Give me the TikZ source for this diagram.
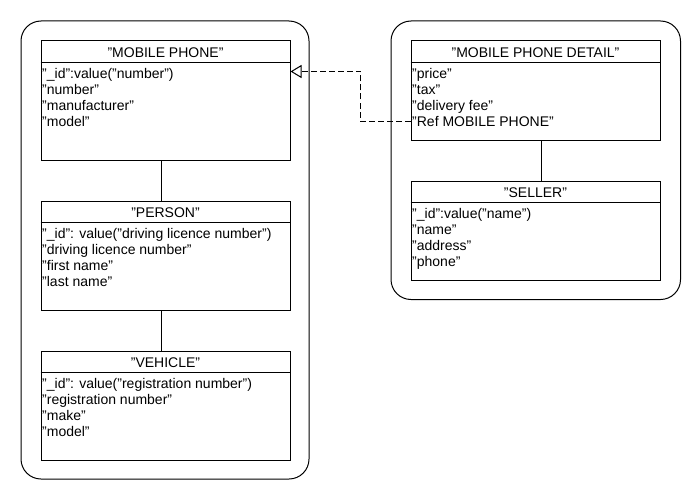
\documentclass[tikz,border=0pt]{standalone}
\usepackage{fontspec}
\setmainfont{Liberation Sans}
\usetikzlibrary{arrows.meta}
\tikzset{
  container/.style={draw=black, line width=1pt, rounded corners=20pt, inner sep=0pt, anchor=north west},
  cbox/.style={draw=black, line width=1pt, fill=white, inner sep=0pt, anchor=north west},
  title/.style={anchor=base, inner sep=0pt, font=\fontsize{14}{16}\selectfont},
  attr/.style={anchor=base west, inner sep=0pt, font=\fontsize{14}{16}\selectfont},
  link/.style={draw=black, line width=1pt},
  dep/.style={draw=black, line width=1pt, dash pattern=on 6pt off 3pt, -{Triangle[open, length=11pt, width=13pt]}}
}
\newcommand{\umlclass}[7]{% name, x, y, w, h, title, attributes
  \node[cbox, minimum width=#4pt, minimum height=#5pt] (#1) at (#2,#3) {};
  \draw[link] ([yshift=-22pt]#1.north west) -- ([yshift=-22pt]#1.north east);
  \node[title] (#1-t) at ([yshift=-17pt]#1.north) {#6};
  \foreach \t [count=\i] in {#7} {
    \node[attr] (#1-a\i) at ([xshift=1.5pt,yshift={-38pt-(\i-1)*16pt}]#1.north west) {\t};
  }
}
\begin{document}
\begin{tikzpicture}[x=1pt, y=-1pt]
  \fill[white] (0,0) rectangle (700,500);
  \useasboundingbox (0,0) rectangle (700,500);
  % containers
  \node[container, minimum width=288pt, minimum height=458pt] (leftc) at (20.5,20.5) {};
  \node[container, minimum width=289.5pt, minimum height=278.5pt] (rightc) at (390.5,20.5) {};
  % classes
  \umlclass{mp}{40.5}{40.5}{249}{119}{"MOBILE PHONE"}{"\_id":value("number"), "number", "manufacturer", "model"}
  \umlclass{person}{40.5}{200.5}{249}{109}{"PERSON"}{"\_id": value("driving licence number"), "driving licence number", "first name", "last name"}
  \umlclass{vehicle}{40.5}{350.5}{249}{109}{"VEHICLE"}{"\_id": value("registration number"), "registration number", "make", "model"}
  \umlclass{mpd}{410.5}{40.5}{249}{99}{"MOBILE PHONE DETAIL"}{"price", "tax", "delivery fee", "Ref MOBILE PHONE"}
  \umlclass{seller}{410.5}{180.5}{249}{99}{"SELLER"}{"\_id":value("name"), "name", "address", "phone"}
  % connectors
  \draw[link] ([xshift=-4pt]mp.south) -- ([xshift=-4pt]person.north);
  \draw[link] ([xshift=-4pt]person.south) -- ([xshift=-4pt]vehicle.north);
  \draw[link] ([xshift=5.5pt]mpd.south) -- ([xshift=5.5pt]seller.north);
  \draw[dep] ([yshift=-31pt]mpd.west) -- ++(-50,0) |- ([yshift=29pt]mp.east);
\end{tikzpicture}
\end{document}
